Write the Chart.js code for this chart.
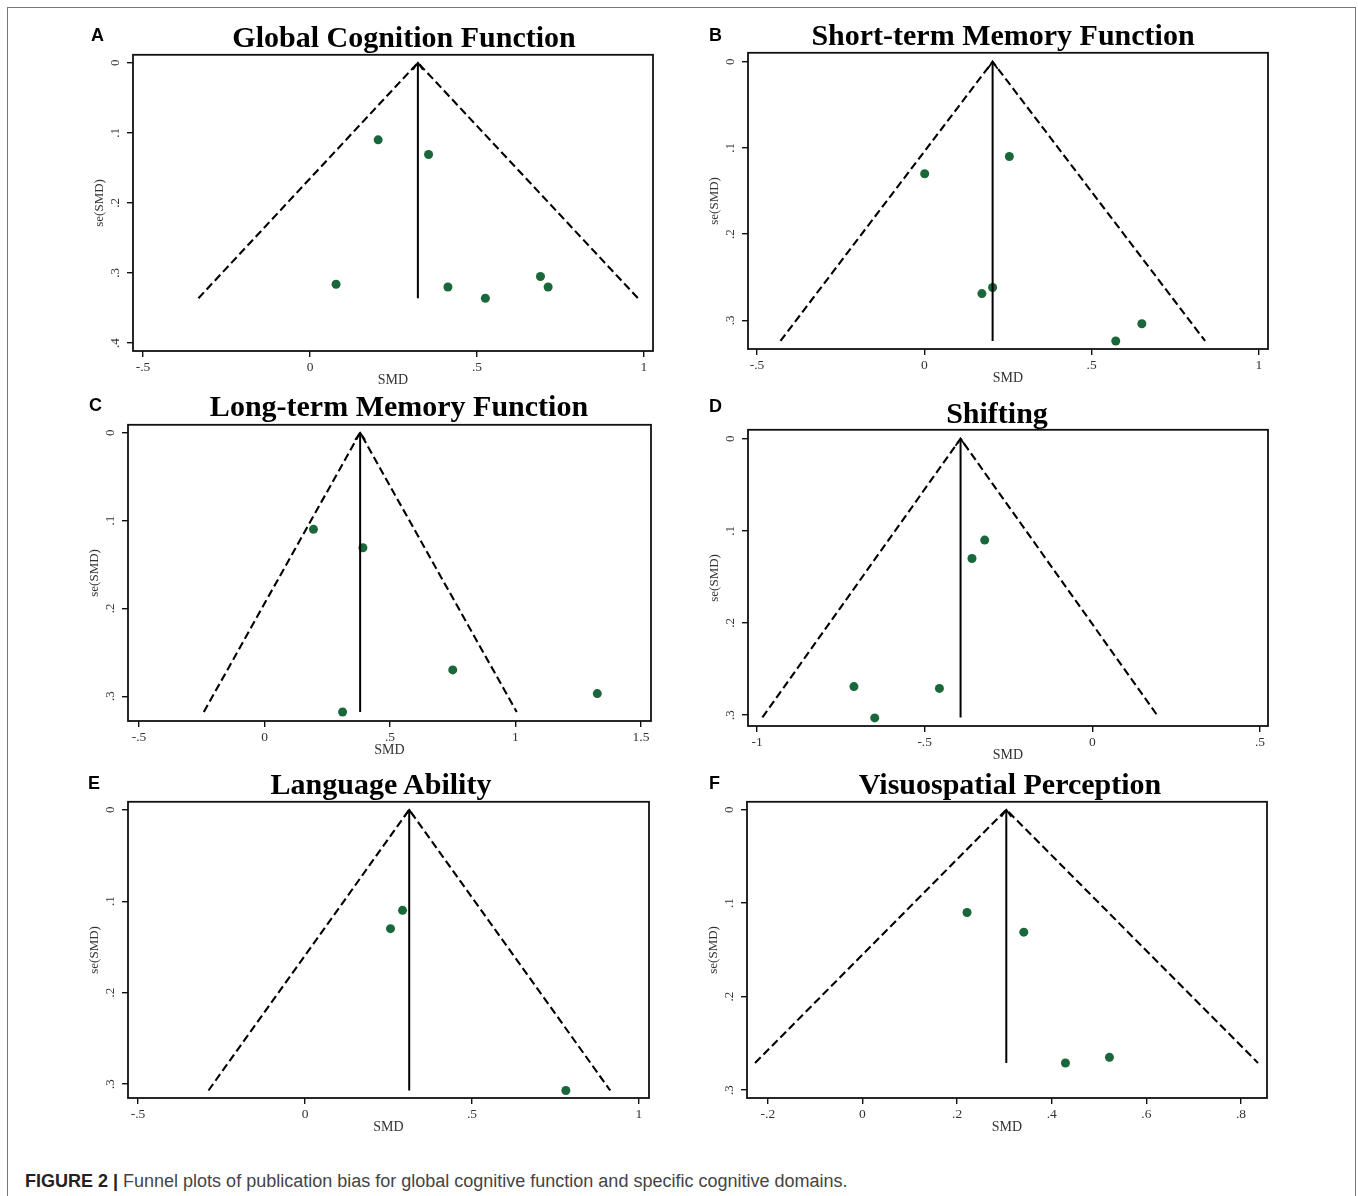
<!DOCTYPE html>
<html>
<head>
<meta charset="utf-8">
<script src="https://cdn.jsdelivr.net/npm/chart.js@4.4.0/dist/chart.umd.min.js"></script>
<style>
  body { margin: 0; background: #fff; width: 1358px; height: 1196px; position: relative; overflow: hidden; }
  .outer { position: absolute; left: 7px; top: 7px; width: 1349px; height: 1300px; border: 1.5px solid #777; box-sizing: border-box; }
  canvas { position: absolute; }
  .ttl { position: absolute; font: bold 30px "Liberation Serif", "Times New Roman", serif; line-height: 30px; white-space: nowrap; transform: translateX(-50%); color: #000; }
  .lbl { position: absolute; font: bold 18px "Liberation Sans", Arial, sans-serif; line-height: 18px; color: #000; }
  .cap { position: absolute; left: 25px; top: 1172px; font: 18px "Liberation Sans", Arial, sans-serif; line-height: 18px; color: #444; white-space: nowrap; }
  .cap b { color: #222; }
</style>
</head>
<body>
<div class="outer"></div>
<div class="cap"><b>FIGURE 2 |</b> Funnel plots of publication bias for global cognitive function and specific cognitive domains.</div>

<script>
// values: effect size (SMD) and its standard error
const titles = ['Global Cognition Function', 'Short-term Memory Function', 'Long-term Memory Function',
                'Shifting', 'Language Ability', 'Visuospatial Perception'];
const letters = ['A', 'B', 'C', 'D', 'E', 'F'];

const aSmd = [0.204, 0.355, 0.078, 0.413, 0.525, 0.690, 0.713];
const aSe  = [0.110, 0.131, 0.316, 0.320, 0.336, 0.305, 0.320];
const bSmd = [0.254, 0.001, 0.204, 0.172, 0.650, 0.572];
const bSe  = [0.110, 0.130, 0.262, 0.269, 0.304, 0.324];
const cSmd = [0.195, 0.392, 0.750, 1.326, 0.311];
const cSe  = [0.110, 0.131, 0.270, 0.297, 0.318];
const dSmd = [-0.321, -0.359, -0.711, -0.456, -0.649];
const dSe  = [0.110, 0.130, 0.269, 0.271, 0.303];
const eSmd = [0.292, 0.256, 0.781];
const eSe  = [0.110, 0.130, 0.307];
const fSmd = [0.221, 0.341, 0.429, 0.522];
const fSe  = [0.110, 0.131, 0.271, 0.265];

// pooled estimate and pseudo 95% limits of each funnel
const pooled   = [0.323, 0.204, 0.381, -0.393, 0.312, 0.304];
const seMax    = [0.336, 0.324, 0.318, 0.3025, 0.307, 0.271];
const funnelLo = [-0.334, -0.430, -0.242, -0.984, -0.289, -0.227];
const funnelHi = [0.982, 0.839, 1.005, 0.198, 0.914, 0.836];

// tick labels
const aXTicks = [-0.5, 0, 0.5, 1];
const bXTicks = [-0.5, 0, 0.5, 1];
const cXTicks = [-0.5, 0, 0.5, 1, 1.5];
const dXTicks = [-1, -0.5, 0, 0.5];
const eXTicks = [-0.5, 0, 0.5, 1];
const fXTicks = [-0.2, 0, 0.2, 0.4, 0.6, 0.8];
const aYTicks = [0, 0.1, 0.2, 0.3, 0.4];
const yTicks3 = [0, 0.1, 0.2, 0.3];

// layout: plot frame in page pixels and axis ranges
const layout = [
  { frame: [133, 52, 653, 351],  x: [-0.530, 1.027], y: [-0.0113, 0.4113], title: [404, 22],  letter: [91, 26] },
  { frame: [748, 50, 1268, 349], x: [-0.527, 1.027], y: [-0.0103, 0.3333], title: [1003, 20], letter: [709, 26] },
  { frame: [128, 422, 651, 721], x: [-0.544, 1.540], y: [-0.0090, 0.3282], title: [399, 391], letter: [89, 396] },
  { frame: [748, 427, 1268, 726], x: [-1.027, 0.524], y: [-0.0097, 0.3118], title: [997, 398], letter: [709, 397] },
  { frame: [128, 799, 649, 1098], x: [-0.530, 1.030], y: [-0.0087, 0.3152], title: [381, 769], letter: [88, 774] },
  { frame: [747, 799, 1267, 1098], x: [-0.244, 0.855], y: [-0.0085, 0.3085], title: [1010, 769], letter: [709, 774] }
];

const smdList = [aSmd, bSmd, cSmd, dSmd, eSmd, fSmd];
const seList = [aSe, bSe, cSe, dSe, eSe, fSe];
const xTickList = [aXTicks, bXTicks, cXTicks, dXTicks, eXTicks, fXTicks];
const yTickList = [aYTicks, yTicks3, yTicks3, yTicks3, yTicks3, yTicks3];

const AXIS_W = 45, AXIS_H = 40, PAD_T = 12, PAD_R = 6;

// stata style labels: -.5, .5, 1.5
function stataFmt(v) {
  const s = String(+(+v).toFixed(2));
  return s.replace(/^(-?)0\./, '$1.');
}

const framePlugin = {
  id: 'frameBox',
  afterDatasetsDraw(chart) {
    const a = chart.chartArea, ctx = chart.ctx;
    ctx.save();
    ctx.strokeStyle = '#111';
    ctx.lineWidth = 1.8;
    ctx.strokeRect(a.left, a.top, a.right - a.left, a.bottom - a.top);
    ctx.restore();
  }
};

const arrowPlugin = {
  id: 'arrowHead',
  afterDatasetsDraw(chart) {
    const tip = chart.getDatasetMeta(1).data[0];
    if (!tip) return;
    const ctx = chart.ctx;
    ctx.save();
    ctx.strokeStyle = '#000';
    ctx.lineWidth = 1.8;
    ctx.beginPath();
    ctx.moveTo(tip.x - 5, tip.y + 7);
    ctx.lineTo(tip.x, tip.y);
    ctx.lineTo(tip.x + 5, tip.y + 7);
    ctx.stroke();
    ctx.restore();
  }
};

layout.forEach(function(L, i) {
  const [fl, ft, fr, fb] = L.frame;
  const cv = document.createElement('canvas');
  const w = fr - fl + AXIS_W + PAD_R, h = fb - ft + AXIS_H + PAD_T;
  cv.width = w; cv.height = h;
  cv.style.left = (fl - AXIS_W) + 'px';
  cv.style.top = (ft - PAD_T) + 'px';
  cv.style.width = w + 'px'; cv.style.height = h + 'px';
  document.body.appendChild(cv);

  const t = document.createElement('div');
  t.className = 'ttl';
  t.textContent = titles[i];
  t.style.left = L.title[0] + 'px'; t.style.top = L.title[1] + 'px';
  document.body.appendChild(t);

  const lb = document.createElement('div');
  lb.className = 'lbl';
  lb.textContent = letters[i];
  lb.style.left = L.letter[0] + 'px'; lb.style.top = L.letter[1] + 'px';
  document.body.appendChild(lb);

  const pts = smdList[i].map((v, k) => ({ x: v, y: seList[i][k] }));
  const xt = xTickList[i], yt = yTickList[i];

  new Chart(cv.getContext('2d'), {
    type: 'scatter',
    data: {
      datasets: [
        {
          data: [{ x: funnelLo[i], y: seMax[i] }, { x: pooled[i], y: 0 }, { x: funnelHi[i], y: seMax[i] }],
          showLine: true, borderColor: '#000', borderWidth: 2.1, borderDash: [8, 4],
          pointRadius: 0, fill: false
        },
        {
          data: [{ x: pooled[i], y: 0 }, { x: pooled[i], y: seMax[i] }],
          showLine: true, borderColor: '#000', borderWidth: 2, pointRadius: 0, fill: false
        },
        {
          data: pts, pointRadius: 4.5, pointBackgroundColor: '#19673a', pointBorderWidth: 0
        }
      ]
    },
    options: {
      responsive: false,
      animation: false,
      layout: { padding: { left: 0, top: PAD_T, right: PAD_R, bottom: 0 } },
      plugins: { legend: { display: false }, tooltip: { enabled: false } },
      scales: {
        x: {
          type: 'linear', min: L.x[0], max: L.x[1],
          afterBuildTicks: s => { s.ticks = xt.map(v => ({ value: v })); },
          afterFit: s => { s.height = AXIS_H; },
          ticks: { callback: stataFmt, autoSkip: false, maxRotation: 0, padding: 2, color: '#333',
                   font: { family: 'Liberation Serif', size: 13.5 } },
          grid: { drawOnChartArea: false, tickLength: 6, color: '#111', lineWidth: 1.4 },
          border: { display: false },
          title: { display: true, text: 'SMD', color: '#333', font: { family: 'Liberation Serif', size: 14 },
                   padding: { top: 0, bottom: 2.6 } }
        },
        y: {
          type: 'linear', reverse: true, min: L.y[0], max: L.y[1],
          afterBuildTicks: s => { s.ticks = yt.map(v => ({ value: v })); },
          afterFit: s => { s.width = AXIS_W; },
          ticks: { callback: stataFmt, autoSkip: false, minRotation: 90, maxRotation: 90, crossAlign: 'center',
                   padding: 7, color: '#333', font: { family: 'Liberation Serif', size: 13 } },
          grid: { drawOnChartArea: false, tickLength: 6, color: '#111', lineWidth: 1.4 },
          border: { display: false },
          title: { display: true, text: 'se(SMD)', color: '#333', font: { family: 'Liberation Serif', size: 13 },
                   padding: { top: 4.2, bottom: 0 } }
        }
      }
    },
    plugins: [framePlugin, arrowPlugin]
  });
});
</script>
</body>
</html>
